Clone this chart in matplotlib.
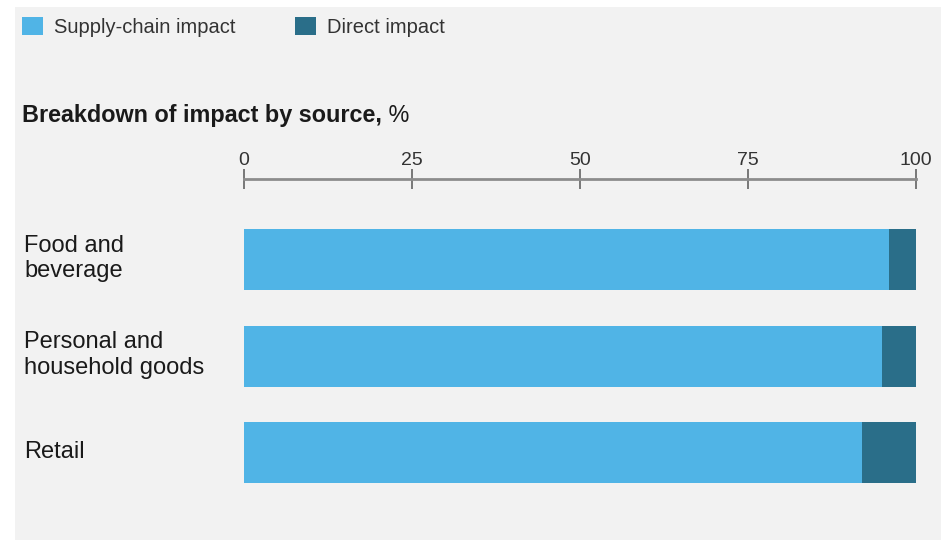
import matplotlib
matplotlib.use("Agg")
import matplotlib.pyplot as plt
from matplotlib.patches import Rectangle, Patch
import matplotlib.transforms as mtransforms

categories = ["Food and\nbeverage", "Personal and\nhousehold goods", "Retail"]
supply_chain = [96, 95, 92]
direct = [4, 5, 8]
ticks = [0, 25, 50, 75, 100]
series_names = ["Supply-chain impact", "Direct impact"]
title_bold = "Breakdown of impact by source,"
title_rest = " %"

LIGHT = "#50B4E6"
DARK = "#2A6E89"
BG = "#F2F2F2"
TXT = "#1a1a1a"

W, H = 946, 540
plt.rcParams['font.family'] = ['Liberation Sans', 'DejaVu Sans']

fig = plt.figure(figsize=(W / 100, H / 100), dpi=100, facecolor="white")
fig.patches.append(Rectangle((15 / W, 0), (941 - 15) / W, 1 - 7 / H,
                             transform=fig.transFigure, facecolor=BG,
                             edgecolor="none", zorder=-10))

ax_left, ax_right = 244 / W, 916 / W
ax_top, ax_bot = 1 - 179 / H, 1 - 500 / H
ax = fig.add_axes([ax_left, ax_bot, ax_right - ax_left, ax_top - ax_bot])
ax.set_facecolor("none")

y = list(range(len(categories)))
ax.barh(y, supply_chain, height=0.632, color=LIGHT, edgecolor="none")
ax.barh(y, direct, left=supply_chain, height=0.632, color=DARK, edgecolor="none")

ax.set_xlim(0, 100)
ax.set_ylim(2.492, -0.834)
for s in ["left", "right", "bottom"]:
    ax.spines[s].set_visible(False)
ax.spines["top"].set_color("#8C8C8C")
ax.spines["top"].set_linewidth(2.0)
ax.spines["top"].set_bounds(0, 100)
ax.xaxis.set_ticks_position("top")
ax.set_xticks(ticks)
ax.set_xticklabels([str(t) for t in ticks])
ax.tick_params(axis="x", direction="inout", length=14, width=1.3,
               color="#6E6E6E", labelsize=14, labelcolor="#333333", pad=0.5)
ax.set_yticks([])

trans = mtransforms.blended_transform_factory(fig.transFigure, ax.transData)
for yi, cat in zip(y, categories):
    ax.text(24 / W, yi - 0.01, cat, transform=trans, ha="left", va="center",
            fontsize=17, color=TXT, linespacing=1.21)

# title
t = fig.text(22 / W, 1 - 115 / H, title_bold, fontsize=16.8, fontweight="bold",
             color=TXT, ha="left", va="center")
fig.canvas.draw()
bb = t.get_window_extent()
fig.text(bb.x1 / W, 1 - 115 / H, title_rest, fontsize=16.8, color=TXT,
         ha="left", va="center")

handles = [Patch(facecolor=LIGHT, edgecolor="none"),
           Patch(facecolor=DARK, edgecolor="none")]
fig.legend(handles, series_names, loc="upper left",
           bbox_to_anchor=(14 / W, 1 - 9 / H), ncol=2, frameon=False,
           fontsize=14.5, handlelength=1.05, handleheight=1.0,
           handletextpad=0.55, columnspacing=2.95, labelcolor="#333333",
           borderaxespad=0)

fig.savefig("out.png", dpi=100, facecolor="white")
